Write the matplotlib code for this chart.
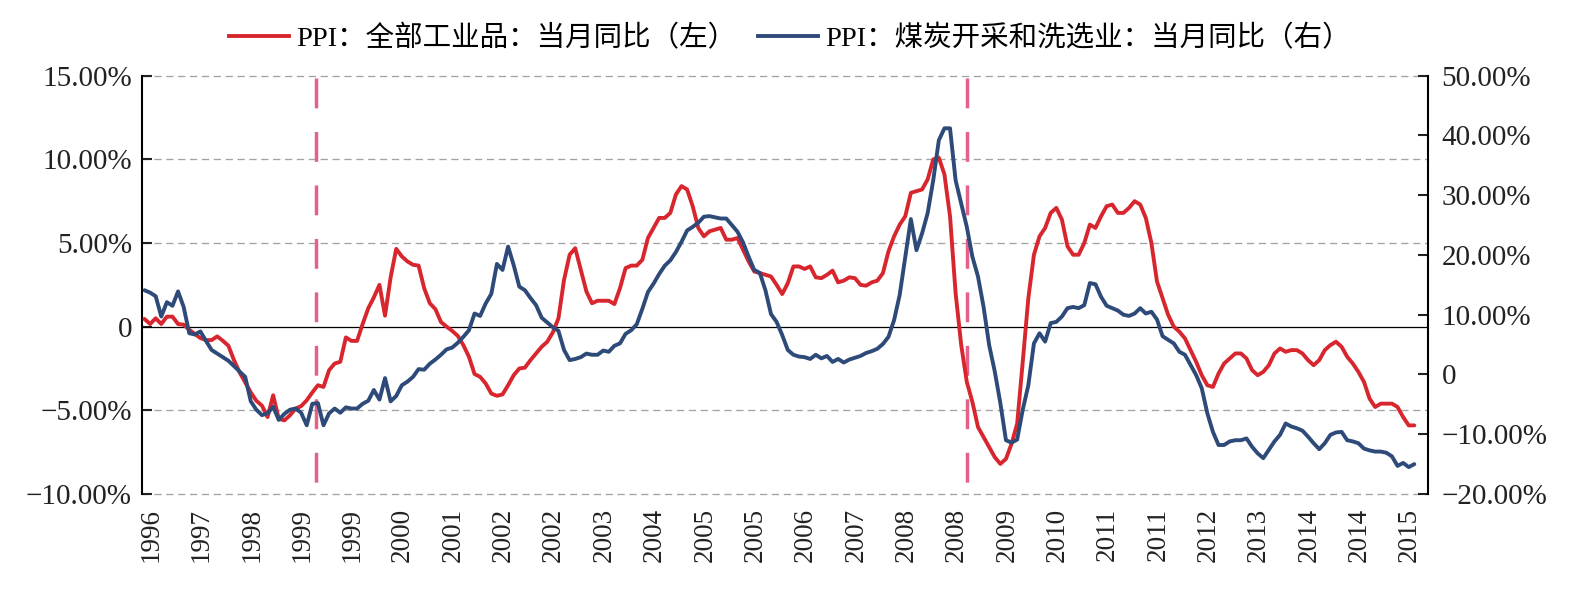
import matplotlib
matplotlib.use("Agg")
import matplotlib.pyplot as plt
import matplotlib.transforms as mtransforms
from matplotlib.lines import Line2D

# ---------------- data (monthly, first observation 1996-10) ----------------
start_month = "1996-10"

ppi_all = [
    0.46, 0.16, 0.5, 0.16, 0.6, 0.6, 0.16, 0.12, -0.18, -0.44,
    -0.68, -0.8, -0.8, -0.58, -0.84, -1.14, -2.0, -2.73, -3.33, -3.93,
    -4.43, -4.72, -5.4, -4.1, -5.5, -5.6, -5.3, -4.9, -4.75, -4.4,
    -3.93, -3.5, -3.6, -2.6, -2.2, -2.1, -0.64, -0.85, -0.85, 0.16,
    1.1, 1.75, 2.5, 0.66, 2.95, 4.65, 4.2, 3.9, 3.7, 3.65,
    2.3, 1.4, 1.05, 0.28, 0.0, -0.25, -0.55, -1.1, -1.8, -2.83,
    -3.0, -3.4, -4.0, -4.13, -4.05, -3.5, -2.9, -2.5, -2.45, -2.0,
    -1.6, -1.2, -0.9, -0.34, 0.5, 2.8, 4.3, 4.69, 3.4, 2.1,
    1.4, 1.55, 1.55, 1.55, 1.35, 2.3, 3.5, 3.65, 3.65, 4.0,
    5.3, 5.9, 6.5, 6.5, 6.8, 7.9, 8.4, 8.2, 7.2, 5.9,
    5.4, 5.7, 5.8, 5.9, 5.2, 5.2, 5.3, 4.6, 3.9, 3.3,
    3.2, 3.1, 3.0, 2.5, 1.95, 2.6, 3.6, 3.6, 3.45, 3.6,
    2.95, 2.9, 3.1, 3.35, 2.65, 2.75, 2.95, 2.9, 2.5, 2.45,
    2.65, 2.75, 3.2, 4.5, 5.4, 6.1, 6.6, 8.0, 8.1, 8.2,
    8.8, 10.0, 10.1, 9.1, 6.6, 2.0, -1.1, -3.3, -4.5, -6.0,
    -6.6, -7.2, -7.8, -8.2, -7.9, -7.0, -5.8, -2.1, 1.7, 4.3,
    5.4, 5.9, 6.8, 7.1, 6.4, 4.8, 4.3, 4.3, 5.0, 6.1,
    5.9, 6.6, 7.2, 7.3, 6.8, 6.8, 7.1, 7.5, 7.3, 6.5,
    5.0, 2.7, 1.7, 0.7, 0.0, -0.3, -0.7, -1.4, -2.1, -2.9,
    -3.5, -3.6, -2.8, -2.2, -1.9, -1.6, -1.6, -1.9, -2.6, -2.9,
    -2.7, -2.3, -1.6, -1.3, -1.5, -1.4, -1.4, -1.6, -2.0, -2.3,
    -2.0, -1.4, -1.1, -0.9, -1.2, -1.8, -2.2, -2.7, -3.3, -4.3,
    -4.8, -4.6, -4.6, -4.6, -4.8, -5.4, -5.9, -5.9,
]

ppi_coal = [
    14.1, 13.7, 13.1, 9.7, 12.1, 11.5, 13.9, 11.3, 6.9, 6.7,
    7.2, 5.6, 4.1, 3.5, 2.9, 2.3, 1.4, 0.5, -0.4, -4.5,
    -5.9, -6.8, -6.5, -5.4, -7.6, -6.6, -5.9, -5.7, -6.4, -8.5,
    -4.9, -4.8, -8.5, -6.5, -5.7, -6.4, -5.5, -5.7, -5.7, -4.9,
    -4.4, -2.6, -4.2, -0.6, -4.5, -3.6, -1.8, -1.2, -0.4, 0.9,
    0.8, 1.8, 2.5, 3.3, 4.2, 4.5, 5.3, 6.3, 7.4, 10.2,
    9.8, 11.9, 13.5, 18.5, 17.5, 21.4, 18.3, 14.7, 14.1, 12.8,
    11.6, 9.5, 8.7, 7.9, 7.3, 4.1, 2.4, 2.6, 2.9, 3.5,
    3.3, 3.3, 4.0, 3.8, 4.8, 5.2, 6.8, 7.4, 8.4, 11.0,
    13.8, 15.2, 16.8, 18.2, 19.1, 20.5, 22.2, 24.1, 24.7, 25.4,
    26.4, 26.5, 26.3, 26.1, 26.1, 25.0, 23.9, 22.1, 19.7, 17.5,
    17.0, 14.1, 10.1, 8.8, 6.6, 4.1, 3.3, 3.0, 2.9, 2.6,
    3.3, 2.7, 3.1, 2.1, 2.6, 2.0, 2.5, 2.8, 3.1, 3.6,
    3.9, 4.3, 5.1, 6.3, 9.1, 13.3, 19.7, 26.0, 20.8, 23.6,
    27.0, 32.5, 39.2, 41.2, 41.2, 32.5, 28.6, 24.7, 19.7, 16.4,
    11.3, 4.9, 0.5, -4.8, -11.0, -11.4, -10.9, -5.9, -1.8, 5.2,
    6.9, 5.5, 8.6, 8.8, 9.7, 11.1, 11.3, 11.1, 11.6, 15.3,
    15.1, 13.0, 11.5, 11.1, 10.7, 10.0, 9.8, 10.2, 11.1, 10.2,
    10.5, 9.2, 6.4, 5.8, 5.2, 3.8, 3.3, 1.6, -0.1, -2.3,
    -6.5, -9.6, -11.8, -11.8, -11.2, -11.0, -11.0, -10.7, -12.1, -13.2,
    -14.0, -12.6, -11.2, -10.1, -8.2, -8.7, -9.0, -9.4, -10.4, -11.5,
    -12.5, -11.5, -10.1, -9.7, -9.6, -11.0, -11.2, -11.5, -12.4, -12.7,
    -12.9, -12.9, -13.1, -13.7, -15.3, -14.8, -15.5, -15.0,
]

series_labels = ["PPI：全部工业品：当月同比（左）", "PPI：煤炭开采和洗选业：当月同比（右）"]

tick_labels = ["1996", "1997", "1998", "1999", "1999", "2000", "2001", "2002", "2002",
               "2003", "2004", "2005", "2005", "2006", "2007", "2008", "2008", "2009",
               "2010", "2011", "2011", "2012", "2013", "2014", "2014", "2015"]
tick_first = 2      # month index of first labelled category
tick_every = 9      # label every 9 months

left_ticks = [-10, -5, 0, 5, 10, 15]
right_ticks = [-20, -10, 0, 10, 20, 30, 40, 50]
reference_months = [30.6, 147.0]   # vertical dashed marker lines (month index)

# ---------------- style ----------------
RED = "#D8262F"
BLUE = "#2D4A78"
PINK = "#E4628A"
GRID = "#A3A3A3"
FAMILY = ["Liberation Serif", "Noto Sans CJK SC"]
plt.rcParams["font.family"] = FAMILY


def pct(v):
    if v == 0:
        return "0"
    return ("%.2f%%" % v).replace("-", "\u2212")


FW, FH = 1586, 592
fig = plt.figure(figsize=(FW / 100, FH / 100), dpi=100)
L, R, T, B = 141.7, 1428.3, 75.7, 494.0
ax = fig.add_axes([L / FW, 1 - B / FH, (R - L) / FW, (B - T) / FH])
ax2 = ax.twinx()

x = list(range(len(ppi_all)))
ax.set_xlim(-0.5, 229.5)
ax.set_ylim(left_ticks[0], left_ticks[-1])
ax2.set_ylim(right_ticks[0], right_ticks[-1])

# grid lines (left-axis levels) and zero line
for v in left_ticks:
    if v != 0:
        ax.axhline(v, color=GRID, lw=0.95, linestyle=(0, (5.5, 3.5)),
                   zorder=1, clip_on=False)
ax.axhline(0, color="black", lw=0.9, zorder=2)

# reference dashed lines
for m in reference_months:
    ax.plot([m, m], [0.9945, 0.0263], transform=ax.get_xaxis_transform(),
            color=PINK, lw=2.5, linestyle=(0, (8.6, 6.8)), zorder=2.5,
            solid_capstyle="butt", dash_capstyle="butt")

ax.plot(x, ppi_all, color=RED, lw=2.8, zorder=3,
        solid_joinstyle="round", solid_capstyle="round")
ax2.plot(x, ppi_coal, color=BLUE, lw=2.8, zorder=3,
         solid_joinstyle="round", solid_capstyle="round")

# spines
for s in ["top", "bottom", "right"]:
    ax.spines[s].set_visible(False)
for s in ["top", "bottom", "left"]:
    ax2.spines[s].set_visible(False)
ax.spines["left"].set_linewidth(1.5)
ax2.spines["right"].set_linewidth(1.5)

# y ticks
ax.set_yticks(left_ticks)
ax.set_yticklabels([pct(v) for v in left_ticks])
ax.tick_params(axis="y", direction="in", length=7, width=1.5,
               labelsize=21, pad=7, colors="#222222")
ax2.set_yticks(right_ticks)
ax2.set_yticklabels([pct(v) for v in right_ticks])
ax2.tick_params(axis="y", direction="in", length=7, width=1.5,
                labelsize=21, pad=9.5, colors="#222222")

# x ticks
ax.set_xticks([tick_first + tick_every * i for i in range(len(tick_labels))])
ax.set_xticklabels(tick_labels, rotation=90, fontsize=19.5, color="#222222")
ax.tick_params(axis="x", length=0, pad=10)
offset = mtransforms.ScaledTranslation(-4.7 / 100, 0, fig.dpi_scale_trans)
for lab in ax.get_xticklabels():
    lab.set_transform(lab.get_transform() + offset)

# legend
handles = [Line2D([], [], color=RED, lw=2.8), Line2D([], [], color=BLUE, lw=2.8)]
fig.legend(handles, series_labels, loc="center", bbox_to_anchor=(0.498, 1 - 38.5 / FH),
           ncol=2, frameon=False, prop={"family": FAMILY, "size": 20.5},
           handlelength=2.1, handletextpad=0.25, columnspacing=0.75,
           borderaxespad=0, borderpad=0)

fig.savefig("out.png", dpi=100)
